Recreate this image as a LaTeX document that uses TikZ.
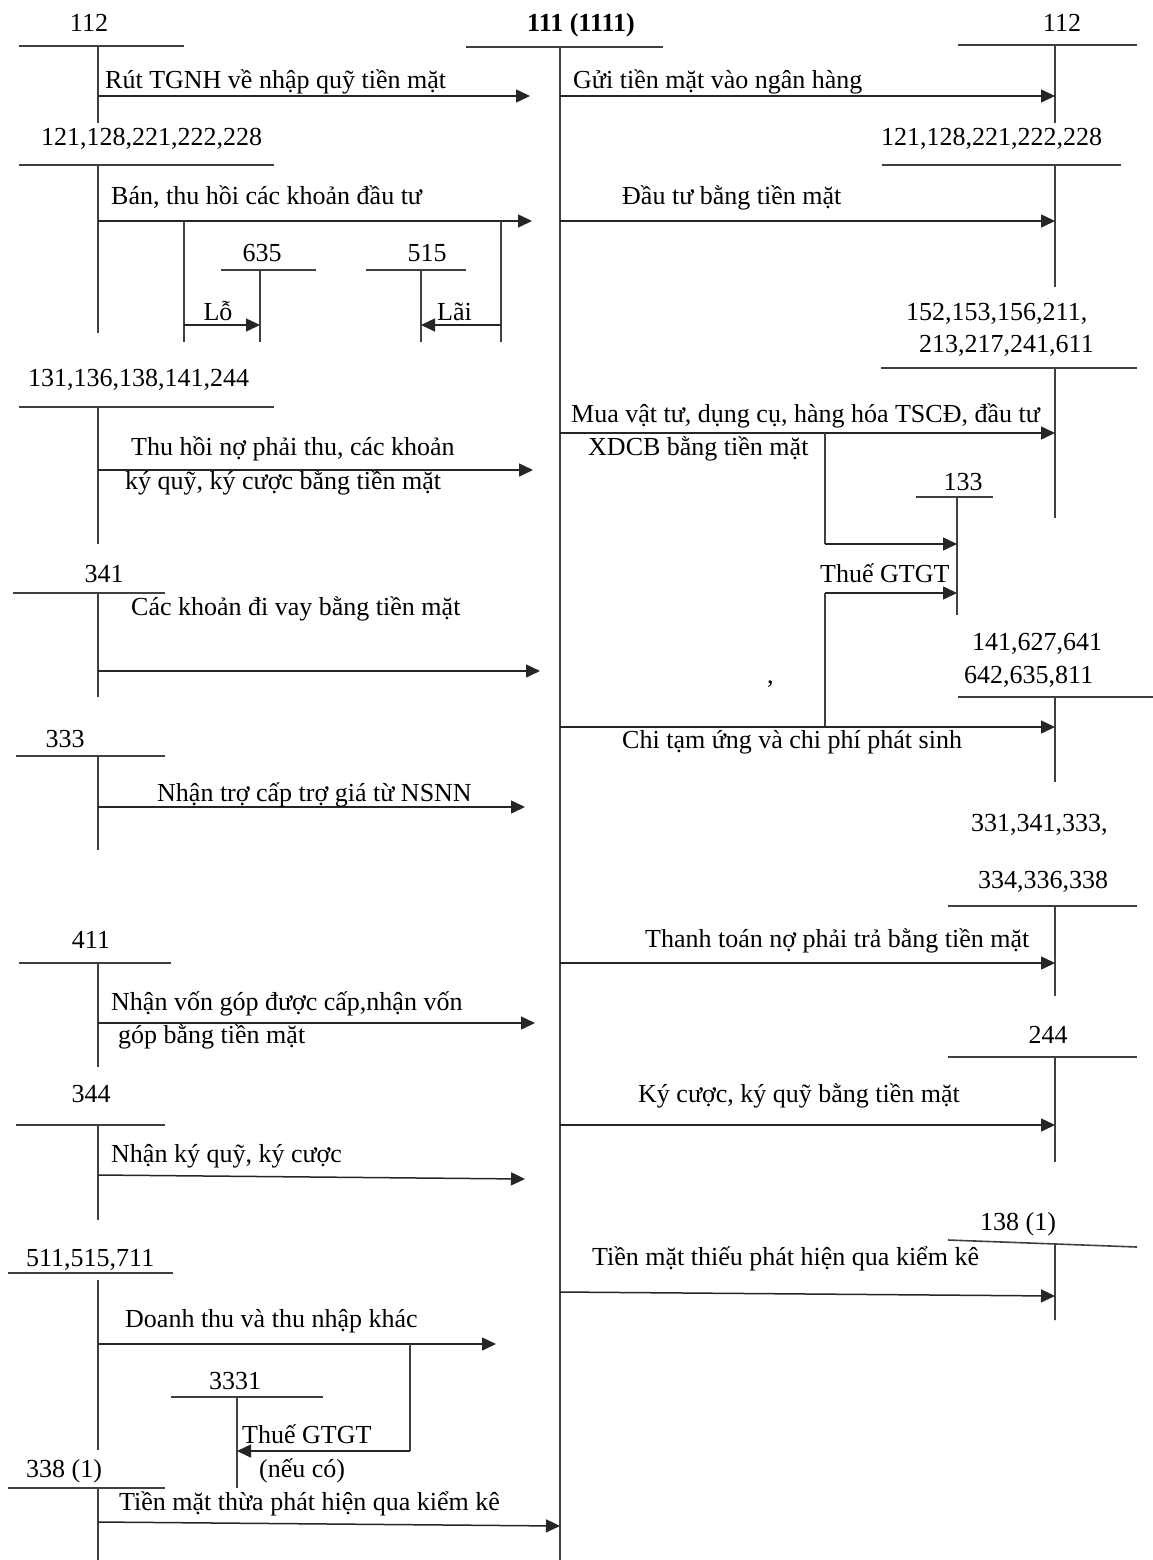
\documentclass[tikz,border=0pt]{standalone}
\usepackage{fontspec}
\setmainfont{Liberation Serif}
\usetikzlibrary{arrows.meta}
\begin{document}
\begin{tikzpicture}[x=1pt,y=-1pt,
  acc/.style={line width=1.6pt, line cap=butt, draw=black!75},
  flow/.style={line width=1.5pt, draw=black!85, -{Triangle[length=14pt,width=13pt]}},
  txt/.style={anchor=base west, inner sep=0pt, font=\fontsize{26}{30}\selectfont},
  ctr/.style={anchor=base, inner sep=0pt, font=\fontsize{26}{30}\selectfont}]
\useasboundingbox[fill=white] (0,0) rectangle (1153,1560);

% ---------- central account 111 ----------
\node[txt, font=\fontsize{26}{30}\selectfont\bfseries] (c111) at (527,32) {111 (1111)};
\draw[acc] (466,47) -- (663,47);
\draw[acc] (560,47) -- (560,1560);

% ---------- left accounts ----------
\node[ctr] (l112) at (89,32) {112};
\draw[acc] (19,46) -- (184,46) (98,46) -- (98,123);

\node[txt] (l121) at (41,146) {121,128,221,222,228};
\draw[acc] (19,165) -- (274,165) (98,165) -- (98,333);

\node[ctr] (a635) at (262,261) {635};
\draw[acc] (221,270) -- (316,270) (260,270) -- (260,342);
\node[ctr] (a515) at (427,261) {515};
\draw[acc] (366,270) -- (466,270) (421,270) -- (421,342);

\node[txt] (l131) at (28,386) {131,136,138,141,244};
\draw[acc] (19,407) -- (274,407) (98,407) -- (98,544);

\node[ctr] (l341) at (104,582) {341};
\draw[acc] (13,593) -- (165,593) (98,593) -- (98,697);

\node[ctr] (l333) at (65,747) {333};
\draw[acc] (16,756) -- (165,756) (98,756) -- (98,850);

\node[ctr] (l411) at (91,948) {411};
\draw[acc] (19,963) -- (171,963) (98,963) -- (98,1067);

\node[ctr] (l344) at (91,1102) {344};
\draw[acc] (16,1125) -- (165,1125) (98,1125) -- (98,1220);

\node[txt] (l511) at (26,1266) {511,515,711};
\draw[acc] (8,1273) -- (173,1273) (98,1280) -- (98,1450);

\node[ctr] (a3331) at (235,1389) {3331};
\draw[acc] (171,1397) -- (323,1397) (237,1397) -- (237,1488);

\node[txt] (l338) at (26,1477) {338 (1)};
\draw[acc] (8,1488) -- (165,1488) (98,1488) -- (98,1560);

% ---------- right accounts ----------
\node[ctr] (r112) at (1062,32) {112};
\draw[acc] (958,45) -- (1137,45) (1055,45) -- (1055,123);

\node[txt] (r121) at (881,146) {121,128,221,222,228};
\draw[acc] (882,165) -- (1121,165) (1055,165) -- (1055,287);

\node[txt] (r152a) at (906,320) {152,153,156,211,};
\node[txt] (r152b) at (919,352) {213,217,241,611};
\draw[acc] (881,368) -- (1137,368) (1055,368) -- (1055,518);

\node[ctr] (a133) at (963,490) {133};
\draw[acc] (916,497) -- (993,497) (957,497) -- (957,615);

\node[txt] (r141a) at (972,650) {141,627,641};
\node[txt] (r141b) at (964,683) {642,635,811};
\draw[acc] (958,697) -- (1153,697) (1055,697) -- (1055,782);

\node[txt] (r331a) at (971,831) {331,341,333,};
\node[txt] (r331b) at (978,888) {334,336,338};
\draw[acc] (948,906) -- (1137,906) (1055,906) -- (1055,996);

\node[ctr] (r244) at (1048,1043) {244};
\draw[acc] (948,1057) -- (1137,1057) (1055,1057) -- (1055,1162);

\node[txt] (r138) at (980,1230) {138 (1)};
\draw[acc] (948,1240) -- (1137,1247) (1055,1243) -- (1055,1320);

% ---------- flows into 111 ----------
\draw[flow] (98,96) -- (530,96);
\node[txt] (f1) at (105,89) {Rút TGNH về nhập quỹ tiền mặt};

\draw[flow] (98,221) -- (532,221);
\node[txt] (f2) at (111,204) {Bán, thu hồi các khoản đầu tư};
\draw[acc] (184,221) -- (184,342);
\draw[flow] (184,325) -- (260,325);
\node[ctr] (flo) at (218,320) {Lỗ};
\draw[acc] (501,221) -- (501,342);
\draw[flow] (501,325) -- (421,325);
\node[txt] (flai) at (437,320) {Lãi};

\draw[flow] (98,470) -- (533,470);
\node[txt] (f3a) at (131,455) {Thu hồi nợ phải thu, các khoản};
\node[txt] (f3b) at (125,489) {ký quỹ, ký cược bằng tiền mặt};

\draw[flow] (98,671) -- (540,671);
\node[txt] (f4) at (131,615) {Các khoản đi vay bằng tiền mặt};

\draw[flow] (98,807) -- (525,807);
\node[txt] (f5) at (157,801) {Nhận trợ cấp trợ giá từ NSNN};

\draw[flow] (98,1023) -- (535,1023);
\node[txt] (f6a) at (111,1010) {Nhận vốn góp được cấp,nhận vốn};
\node[txt] (f6b) at (118,1043) {góp bằng tiền mặt};

\draw[flow] (98,1175) -- (525,1179);
\node[txt] (f7) at (111,1162) {Nhận ký quỹ, ký cược};

\draw[flow] (98,1344) -- (496,1344);
\node[txt] (f8) at (125,1327) {Doanh thu và thu nhập khác};
\draw[acc] (410,1344) -- (410,1451);
\draw[flow] (410,1451) -- (237,1451);
\node[txt] (f8t) at (242,1443) {Thuế GTGT};
\node[txt] (f8n) at (259,1477) {(nếu có)};

\draw[flow] (98,1522) -- (560,1526);
\node[txt] (f9) at (119,1510) {Tiền mặt thừa phát hiện qua kiểm kê};

% ---------- flows out of 111 ----------
\draw[flow] (560,96) -- (1055,96);
\node[txt] (g1) at (573,89) {Gửi tiền mặt vào ngân hàng};

\draw[flow] (560,221) -- (1055,221);
\node[txt] (g2) at (622,204) {Đầu tư bằng tiền mặt};

\draw[flow] (560,433) -- (1055,433);
\node[txt] (g3a) at (571,422) {Mua vật tư, dụng cụ, hàng hóa TSCĐ, đầu tư};
\node[txt] (g3b) at (588,455) {XDCB bằng tiền mặt};
\draw[acc] (825,433) -- (825,544);
\draw[flow] (825,544) -- (957,544);

\draw[acc] (825,727) -- (825,593);
\draw[flow] (825,593) -- (957,593);
\node[txt] (g4t) at (820,582) {Thuế GTGT};

\node[txt] (comma) at (767,683) {,};
\draw[flow] (560,727) -- (1055,727);
\node[txt] (g4) at (622,748) {Chi tạm ứng và chi phí phát sinh};

\draw[flow] (560,963) -- (1055,963);
\node[txt] (g5) at (645,947) {Thanh toán nợ phải trả bằng tiền mặt};

\draw[flow] (560,1125) -- (1055,1125);
\node[txt] (g6) at (638,1102) {Ký cược, ký quỹ bằng tiền mặt};

\draw[flow] (560,1292) -- (1055,1296);
\node[txt] (g7) at (592,1265) {Tiền mặt thiếu phát hiện qua kiểm kê};
\end{tikzpicture}
\end{document}
